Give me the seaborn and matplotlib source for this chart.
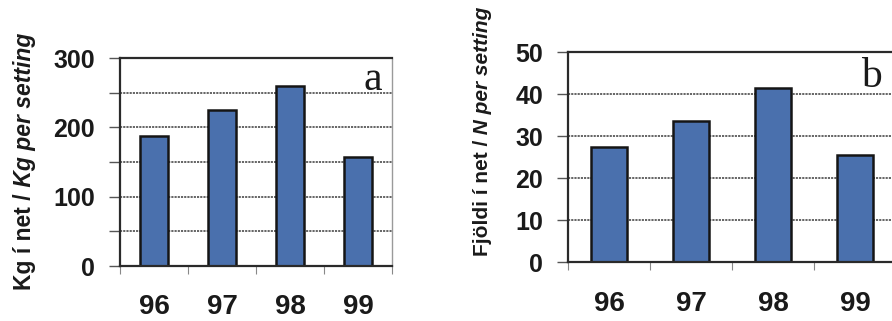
import matplotlib
matplotlib.use("Agg")
import matplotlib.pyplot as plt
import seaborn as sns
import pandas as pd

# Seasons (last two digits of year)
years = ["96", "97", "98", "99"]
# Catch per net setting: weight (kg) and number of fish
kg_per_setting = [188, 225, 259, 157]
n_per_setting = [27.5, 33.6, 41.5, 25.5]

sns.set_theme(style="white")
plt.rcParams["font.family"] = ["Liberation Sans", "DejaVu Sans"]

BAR_COLOR = "#4a70ad"
EDGE = "#151515"
GRID = "#3a3a3a"

fig = plt.figure(figsize=(8.92, 3.21), dpi=100)
W, H = 892, 321


def px_axes(left, top, right, bottom):
    return fig.add_axes([left / W, 1 - bottom / H, (right - left) / W, (bottom - top) / H])


ax_a = px_axes(120, 58, 392, 266)
ax_b = px_axes(568, 52, 896, 262)


def style_panel(ax, values, width, ymax, major, minor, letter, xpad, letter_pos):
    df = pd.DataFrame({"year": years, "value": values})
    sns.barplot(data=df, x="year", y="value", ax=ax, color=BAR_COLOR,
                width=width, edgecolor=EDGE, linewidth=1.8, saturation=1)
    ax.set_xlim(-0.5, 3.5)
    ax.set_ylim(0, ymax)
    ax.set_xlabel("")
    ax.set_ylabel("")
    ax.set_yticks(major)
    ax.set_yticks(minor, minor=True)
    ax.set_xticks([-0.5, 0.5, 1.5, 2.5, 3.5], minor=True)
    ax.grid(False)
    for y in list(major) + list(minor):
        if 0 < y < ymax:
            ax.axhline(y, color=GRID, lw=1.1, ls=(0, (1.4, 0.7)), zorder=0.5)
    ax.tick_params(axis="y", which="both", left=True, length=8, width=1,
                   color="#555555", pad=10, labelsize=18)
    ax.tick_params(axis="x", which="major", length=0, pad=xpad, labelsize=20)
    ax.tick_params(axis="x", which="minor", bottom=True, length=6, width=0.8,
                   color="#888888")
    for lab in ax.get_xticklabels() + ax.get_yticklabels():
        lab.set_fontweight("bold")
        lab.set_color("#1a1a1a")
    for side in ("top", "left", "bottom"):
        ax.spines[side].set_visible(True)
        ax.spines[side].set_color("#2a2a2a")
        ax.spines[side].set_linewidth(1.6)
    ax.spines["right"].set_visible(True)
    ax.spines["right"].set_color("#9a9a9a")
    ax.spines["right"].set_linewidth(1.0)
    ax.spines["right"].set_linestyle((0, (1.5, 1)))
    ax.text(letter_pos[0], letter_pos[1], letter, transform=ax.transAxes,
            ha="right", va="baseline", fontsize=30,
            family=["Liberation Serif", "DejaVu Serif"], color="#1a1a1a")


style_panel(ax_a, kg_per_setting, 0.4, 300, [0, 100, 200, 300], [50, 150, 250],
            "a", 20, (0.963, 0.846))
style_panel(ax_b, n_per_setting, 0.45, 50, [0, 10, 20, 30, 40, 50], [],
            "b", 21, (0.957, 0.833))


def two_part_label(x_px, y_px, first, second, size):
    """Vertical label: upright bold part followed by bold-italic part."""
    renderer = fig.canvas.get_renderer()
    t1 = fig.text(x_px / W, 1 - y_px / H, first, rotation=90, ha="center",
                  va="bottom", fontsize=size, fontweight="bold", color="#1a1a1a")
    bb = t1.get_window_extent(renderer)
    fig.text(x_px / W, bb.y1 / fig.bbox.height, second, rotation=90, ha="center",
             va="bottom", fontsize=size, fontweight="bold", fontstyle="italic",
             color="#1a1a1a")


two_part_label(25, 290, "Kg í net /", " Kg per setting", 16.5)
two_part_label(482, 256, "Fjöldi í net /", " N per setting", 15)

fig.savefig("out.png", dpi=100)
